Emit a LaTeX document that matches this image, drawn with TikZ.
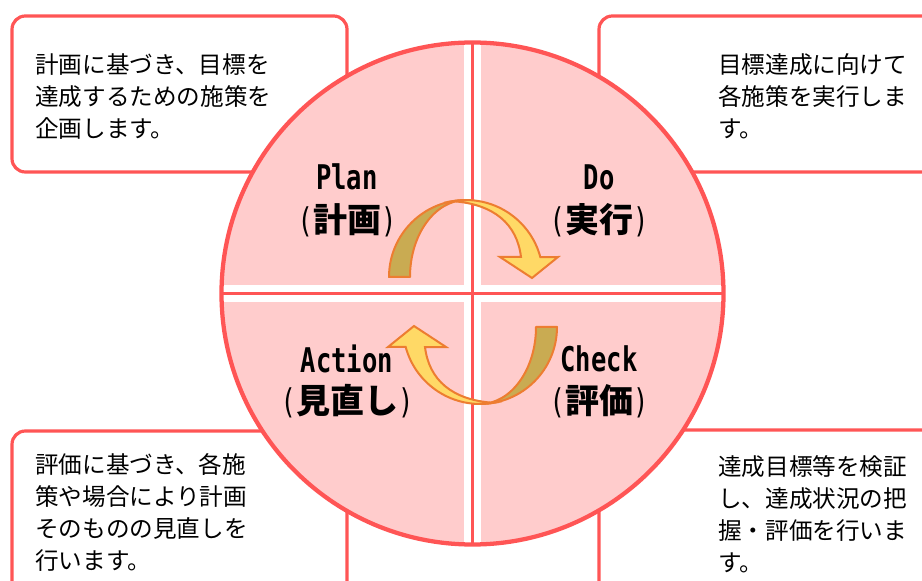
\documentclass[tikz,border=0pt]{standalone}
\usepackage{fontspec}
\newfontfamily\bodyjp{Noto Sans CJK JP}
\newfontfamily\labeljp{Noto Sans CJK JP}
\newfontfamily\labellatin[FakeStretch=0.75]{DejaVu Sans Mono}
\definecolor{ringred}{RGB}{255,85,85}
\definecolor{quadpink}{RGB}{255,204,204}
\definecolor{arrowgold}{RGB}{201,171,82}
\definecolor{arrowyellow}{RGB}{255,217,102}
\definecolor{arroworange}{RGB}{237,125,49}
\newcommand\kakko[1]{{\labellatin\mdseries(}#1{\labellatin\mdseries)}}

\begin{document}
\begin{tikzpicture}[x=0.75pt,y=-0.75pt,
    notebox/.style={draw=ringred,fill=white,line width=2.4pt,rounded corners=10pt},
    notetext/.style={anchor=north west,inner sep=0pt,align=left,
      font=\bodyjp\fontsize{17.7pt}{24pt}\selectfont},
    phase/.style={inner sep=0pt,font=\bfseries\fontsize{25.5pt}{30pt}\selectfont},
    gapline/.style={white,line width=12.75pt},
    crossline/.style={ringred,line width=2.5pt},
    backside/.style={draw=arroworange,fill=arrowgold,line width=1.5pt,line join=round},
    frontside/.style={draw=arroworange,fill=arrowyellow,line width=1.5pt,line join=miter}]
    \useasboundingbox (0,0) rectangle (922,581);

    \draw[notebox] (12,16) rectangle (347,172);
    \draw[notebox] (599,16) rectangle (950,172);
    \draw[notebox] (12,431) rectangle (347,610);
    \draw[notebox] (599,430) rectangle (950,610);

    \node[notetext] (plantext) at (35,53) {計画に基づき、目標を\\達成するための施策を\\企画します。};
    \node[notetext] (dotext) at (718,53) {目標達成に向けて\\各施策を実行しま\\す。};
    \node[notetext] (acttext) at (35,453) {評価に基づき、各施\\策や場合により計画\\そのものの見直しを\\行います。};
    \node[notetext] (checktext) at (718,455) {達成目標等を検証\\し、達成状況の把\\握・評価を行いま\\す。};

    \coordinate (c) at (472.5,293.5);
    \coordinate (n) at (472.5,30);
    \coordinate (s) at (472.5,560);
    \coordinate (w) at (210,293.5);
    \coordinate (e) at (735,293.5);

    \begin{scope}
        \clip (c) circle[radius=251];
        \fill[quadpink] (c) circle[radius=251];
        \draw[gapline] (n) -- (s);
        \draw[gapline] (w) -- (e);
        \draw[crossline] (n) -- (s);
        \draw[crossline] (w) -- (e);
    \end{scope}
    \draw[ringred,line width=3.2pt] (c) circle[radius=251];

    \foreach \turn in {0,180} {
        \begin{scope}[rotate around={\turn:(473,302)}]
            \draw[backside] (389,277) arc[start angle=180,end angle=270,radius=77]
                arc[start angle=270,end angle=180,x radius=56,y radius=77] -- cycle;
            \draw[frontside] (452.6,201.2) arc[start angle=260,end angle=345,radius=77]
                -- (558,257) -- (532,278) -- (500,257) -- (521,257)
                .. controls (517,224) and (494,204) .. (452.6,201.2) -- cycle;
        \end{scope}
    }

    \node[phase] (plan) at (347,177) {\labellatin Plan};
    \node[phase] (planjp) at (347,220) {\labeljp\kakko{計画}};
    \node[phase] (do) at (599,177) {\labellatin Do};
    \node[phase] (dojp) at (599,220) {\labeljp\kakko{実行}};
    \node[phase] (action) at (347,359) {\labellatin Action};
    \node[phase] (actionjp) at (347,401) {\labeljp\kakko{見直し}};
    \node[phase] (check) at (599,359) {\labellatin Check};
    \node[phase] (checkjp) at (599,401) {\labeljp\kakko{評価}};
\end{tikzpicture}
\end{document}
